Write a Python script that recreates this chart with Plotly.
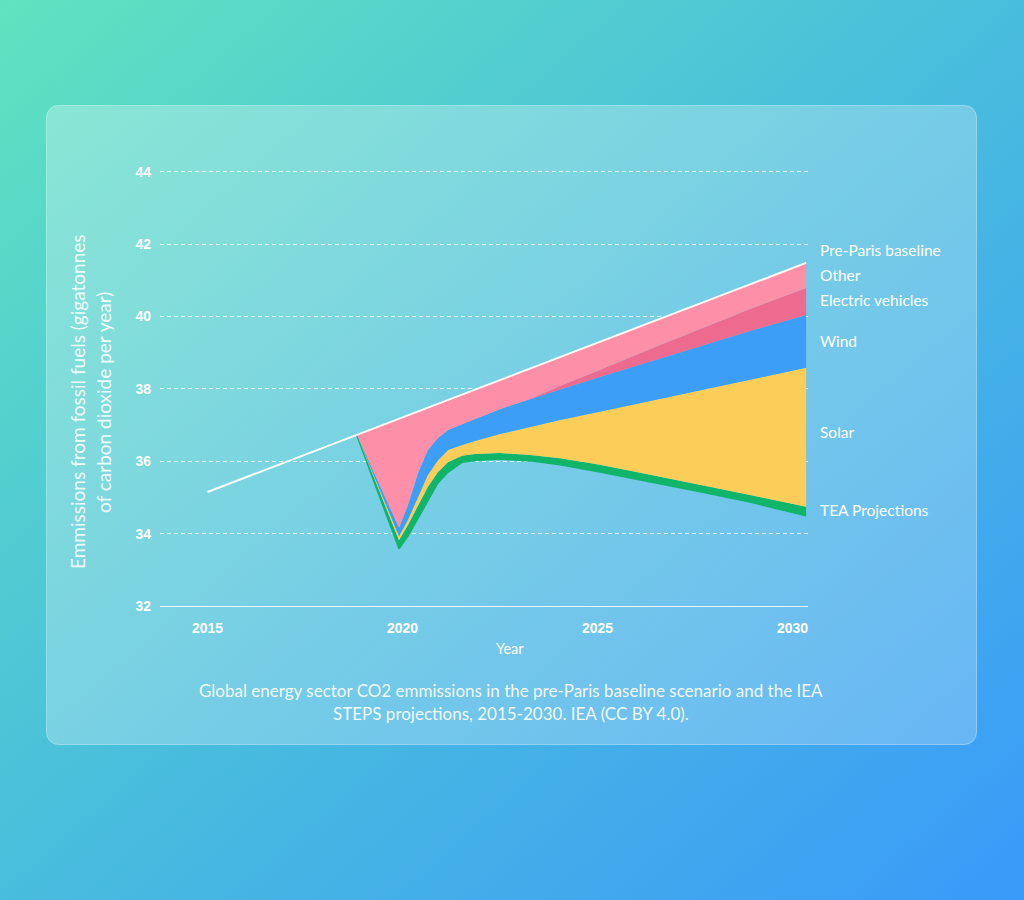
import base64
import plotly.graph_objects as go

# ---------------- data ----------------
baseline_years = [2015, 2030.35]
baseline_vals = [35.15, 41.48]

years = [2018.83, 2019.91, 2020.14, 2020.40, 2020.65, 2020.91, 2021.17, 2021.53,
         2021.86, 2022.50, 2023.27, 2024.04, 2025.06, 2026.35, 2027.63, 2028.91, 2030.35]

# upper edge of each band (stacked boundaries, Gt CO2)
other_top = [36.73, 37.18, 37.27, 37.38, 37.48, 37.59, 37.69, 37.84,
             37.98, 38.24, 38.56, 38.88, 39.30, 39.83, 40.36, 40.89, 41.48]
ev_top = [36.73, 34.16, 34.79, 35.68, 36.31, 36.64, 36.86, 37.03,
          37.17, 37.44, 37.72, 38.08, 38.52, 39.10, 39.65, 40.21, 40.79]
wind_top = [36.73, 34.16, 34.79, 35.68, 36.31, 36.64, 36.86, 37.03,
            37.17, 37.44, 37.72, 37.98, 38.33, 38.76, 39.18, 39.60, 40.04]
solar_top = [36.73, 33.93, 34.38, 35.01, 35.62, 36.03, 36.31, 36.45,
             36.56, 36.75, 36.95, 37.14, 37.37, 37.67, 37.97, 38.25, 38.58]
iea_top = [36.73, 33.82, 34.24, 34.79, 35.29, 35.70, 35.98, 36.15,
           36.20, 36.23, 36.17, 36.08, 35.90, 35.63, 35.36, 35.07, 34.74]
iea_bottom = [36.71, 33.58, 33.93, 34.42, 34.93, 35.40, 35.70, 35.97,
              36.02, 36.06, 36.01, 35.90, 35.70, 35.43, 35.16, 34.87, 34.49]

tick_years = [2015, 2020, 2025, 2030]
tick_text = ["2015", "2020", "2025", "2030"]
y_ticks = [32, 34, 36, 38, 40, 42, 44]

series_labels = ["Pre-Paris baseline", "Other", "Electric vehicles", "Wind", "Solar", "TEA Projections"]

# ---------------- styling ----------------
W, H = 1024, 900
PL, PR, PT, PB = 160, 808, 168, 606   # plot area in pixels
PX_PER_UNIT = 36.19
Y_TOP = 32 + (PB - PT) / PX_PER_UNIT

C_OTHER = "#fd90a8"
C_EV = "#ec6b8f"
C_WIND = "#3d9ef8"
C_SOLAR = "#fcce59"
C_IEA = "#10b56a"

LABEL_FONT = "Lato, 'Noto Sans', sans-serif"
TICK_FONT = "'Liberation Sans', Arial, sans-serif"


def px_x(p):
    return (p - PL) / (PR - PL)


def px_y(p):
    return (PB - p) / (PB - PT)


svg = f"""<svg xmlns='http://www.w3.org/2000/svg' width='{W}' height='{H}' viewBox='0 0 {W} {H}'>
<defs>
<linearGradient id='bg' x1='0' y1='0' x2='1' y2='1'>
<stop offset='0' stop-color='#5fe3bf'/>
<stop offset='0.5' stop-color='#49bddd'/>
<stop offset='1' stop-color='#3a9af9'/>
</linearGradient>
<linearGradient id='card' x1='0' y1='0' x2='1' y2='1'>
<stop offset='0' stop-color='#ffffff' stop-opacity='0.28'/>
<stop offset='1' stop-color='#ffffff' stop-opacity='0.22'/>
</linearGradient>
</defs>
<rect x='0' y='0' width='{W}' height='{H}' fill='url(#bg)'/>
<rect x='46.5' y='105.5' width='930' height='639' rx='12' ry='12' fill='url(#card)' stroke='#ffffff' stroke-opacity='0.35' stroke-width='1'/>
</svg>"""
svg_uri = "data:image/svg+xml;base64," + base64.b64encode(svg.encode()).decode()

fig = go.Figure()


def band(y, color, fill, lw=0):
    return go.Scatter(x=years, y=y, mode="lines", fill=fill, fillcolor=color,
                      line=dict(color=color, width=lw),
                      hoverinfo="skip", showlegend=False)


fig.add_trace(band(iea_bottom, C_IEA, "none", lw=1.5))
fig.add_trace(band(iea_top, C_IEA, "tonexty"))
fig.add_trace(band(solar_top, C_SOLAR, "tonexty"))
fig.add_trace(band(wind_top, C_WIND, "tonexty"))
fig.add_trace(band(ev_top, C_EV, "tonexty"))
fig.add_trace(band(other_top, C_OTHER, "tonexty"))
# pre-Paris baseline
fig.add_trace(go.Scatter(x=baseline_years, y=baseline_vals, mode="lines",
                         line=dict(color="white", width=2), hoverinfo="skip", showlegend=False))

annotations = []
label_y = [250, 275, 300, 341, 432, 510]
for txt, yy in zip(series_labels, label_y):
    annotations.append(dict(text=txt, xref="paper", yref="paper", x=px_x(818), y=px_y(yy),
                            xanchor="left", yanchor="middle", showarrow=False,
                            font=dict(family=LABEL_FONT, size=15.5, color="white")))

annotations.append(dict(text="Year", xref="paper", yref="paper", x=px_x(510), y=px_y(648),
                        xanchor="center", yanchor="middle", showarrow=False,
                        font=dict(family=LABEL_FONT, size=14.5, color="white")))
annotations.append(dict(text="Emmissions from fossil fuels (gigatonnes", xref="paper", yref="paper",
                        x=px_x(77), y=px_y(401), xanchor="center", yanchor="middle",
                        textangle=-90, showarrow=False,
                        font=dict(family=LABEL_FONT, size=19, color="rgba(255,255,255,0.88)")))
annotations.append(dict(text="of carbon dioxide per year)", xref="paper", yref="paper",
                        x=px_x(103), y=px_y(403), xanchor="center", yanchor="middle",
                        textangle=-90, showarrow=False,
                        font=dict(family=LABEL_FONT, size=19, color="rgba(255,255,255,0.88)")))
annotations.append(dict(text="Global energy sector CO2 emmissions in the pre-Paris baseline scenario and the IEA",
                        xref="paper", yref="paper", x=px_x(511), y=px_y(690),
                        xanchor="center", yanchor="middle", showarrow=False,
                        font=dict(family=LABEL_FONT, size=17, color="rgba(255,255,255,0.92)")))
annotations.append(dict(text="STEPS projections, 2015-2030. IEA (CC BY 4.0).",
                        xref="paper", yref="paper", x=px_x(511), y=px_y(713),
                        xanchor="center", yanchor="middle", showarrow=False,
                        font=dict(family=LABEL_FONT, size=17, color="rgba(255,255,255,0.92)")))

fig.update_layout(
    width=W, height=H,
    margin=dict(l=PL, r=W - PR, t=PT, b=H - PB, pad=0),
    paper_bgcolor="#4cc2d9",
    plot_bgcolor="rgba(0,0,0,0)",
    showlegend=False,
    images=[dict(source=svg_uri, xref="paper", yref="paper",
                 x=px_x(0), y=px_y(0), sizex=W / (PR - PL), sizey=H / (PB - PT),
                 xanchor="left", yanchor="top", sizing="stretch", layer="below")],
    annotations=annotations,
    xaxis=dict(range=[2015 + (PL - 207.5) / 39, 2015 + (PR - 207.5) / 39],
               tickvals=tick_years, ticktext=tick_text, showgrid=False, zeroline=False,
               showline=True, linecolor="rgba(255,255,255,0.85)", linewidth=1,
               ticks="", ticklabelstandoff=9,
               tickfont=dict(family=TICK_FONT, size=14, color="white", weight="bold")),
    yaxis=dict(range=[32, Y_TOP], tickvals=y_ticks, showgrid=True,
               gridcolor="rgba(255,255,255,0.75)", gridwidth=1, griddash="4px,3px",
               zeroline=False, showline=False, ticks="", ticklabelstandoff=8,
               tickfont=dict(family=TICK_FONT, size=14, color="white", weight="bold")),
)

fig.write_html("out.html", config={"displayModeBar": False},
               post_script="document.body.style.margin='0';document.body.style.overflow='hidden';")
